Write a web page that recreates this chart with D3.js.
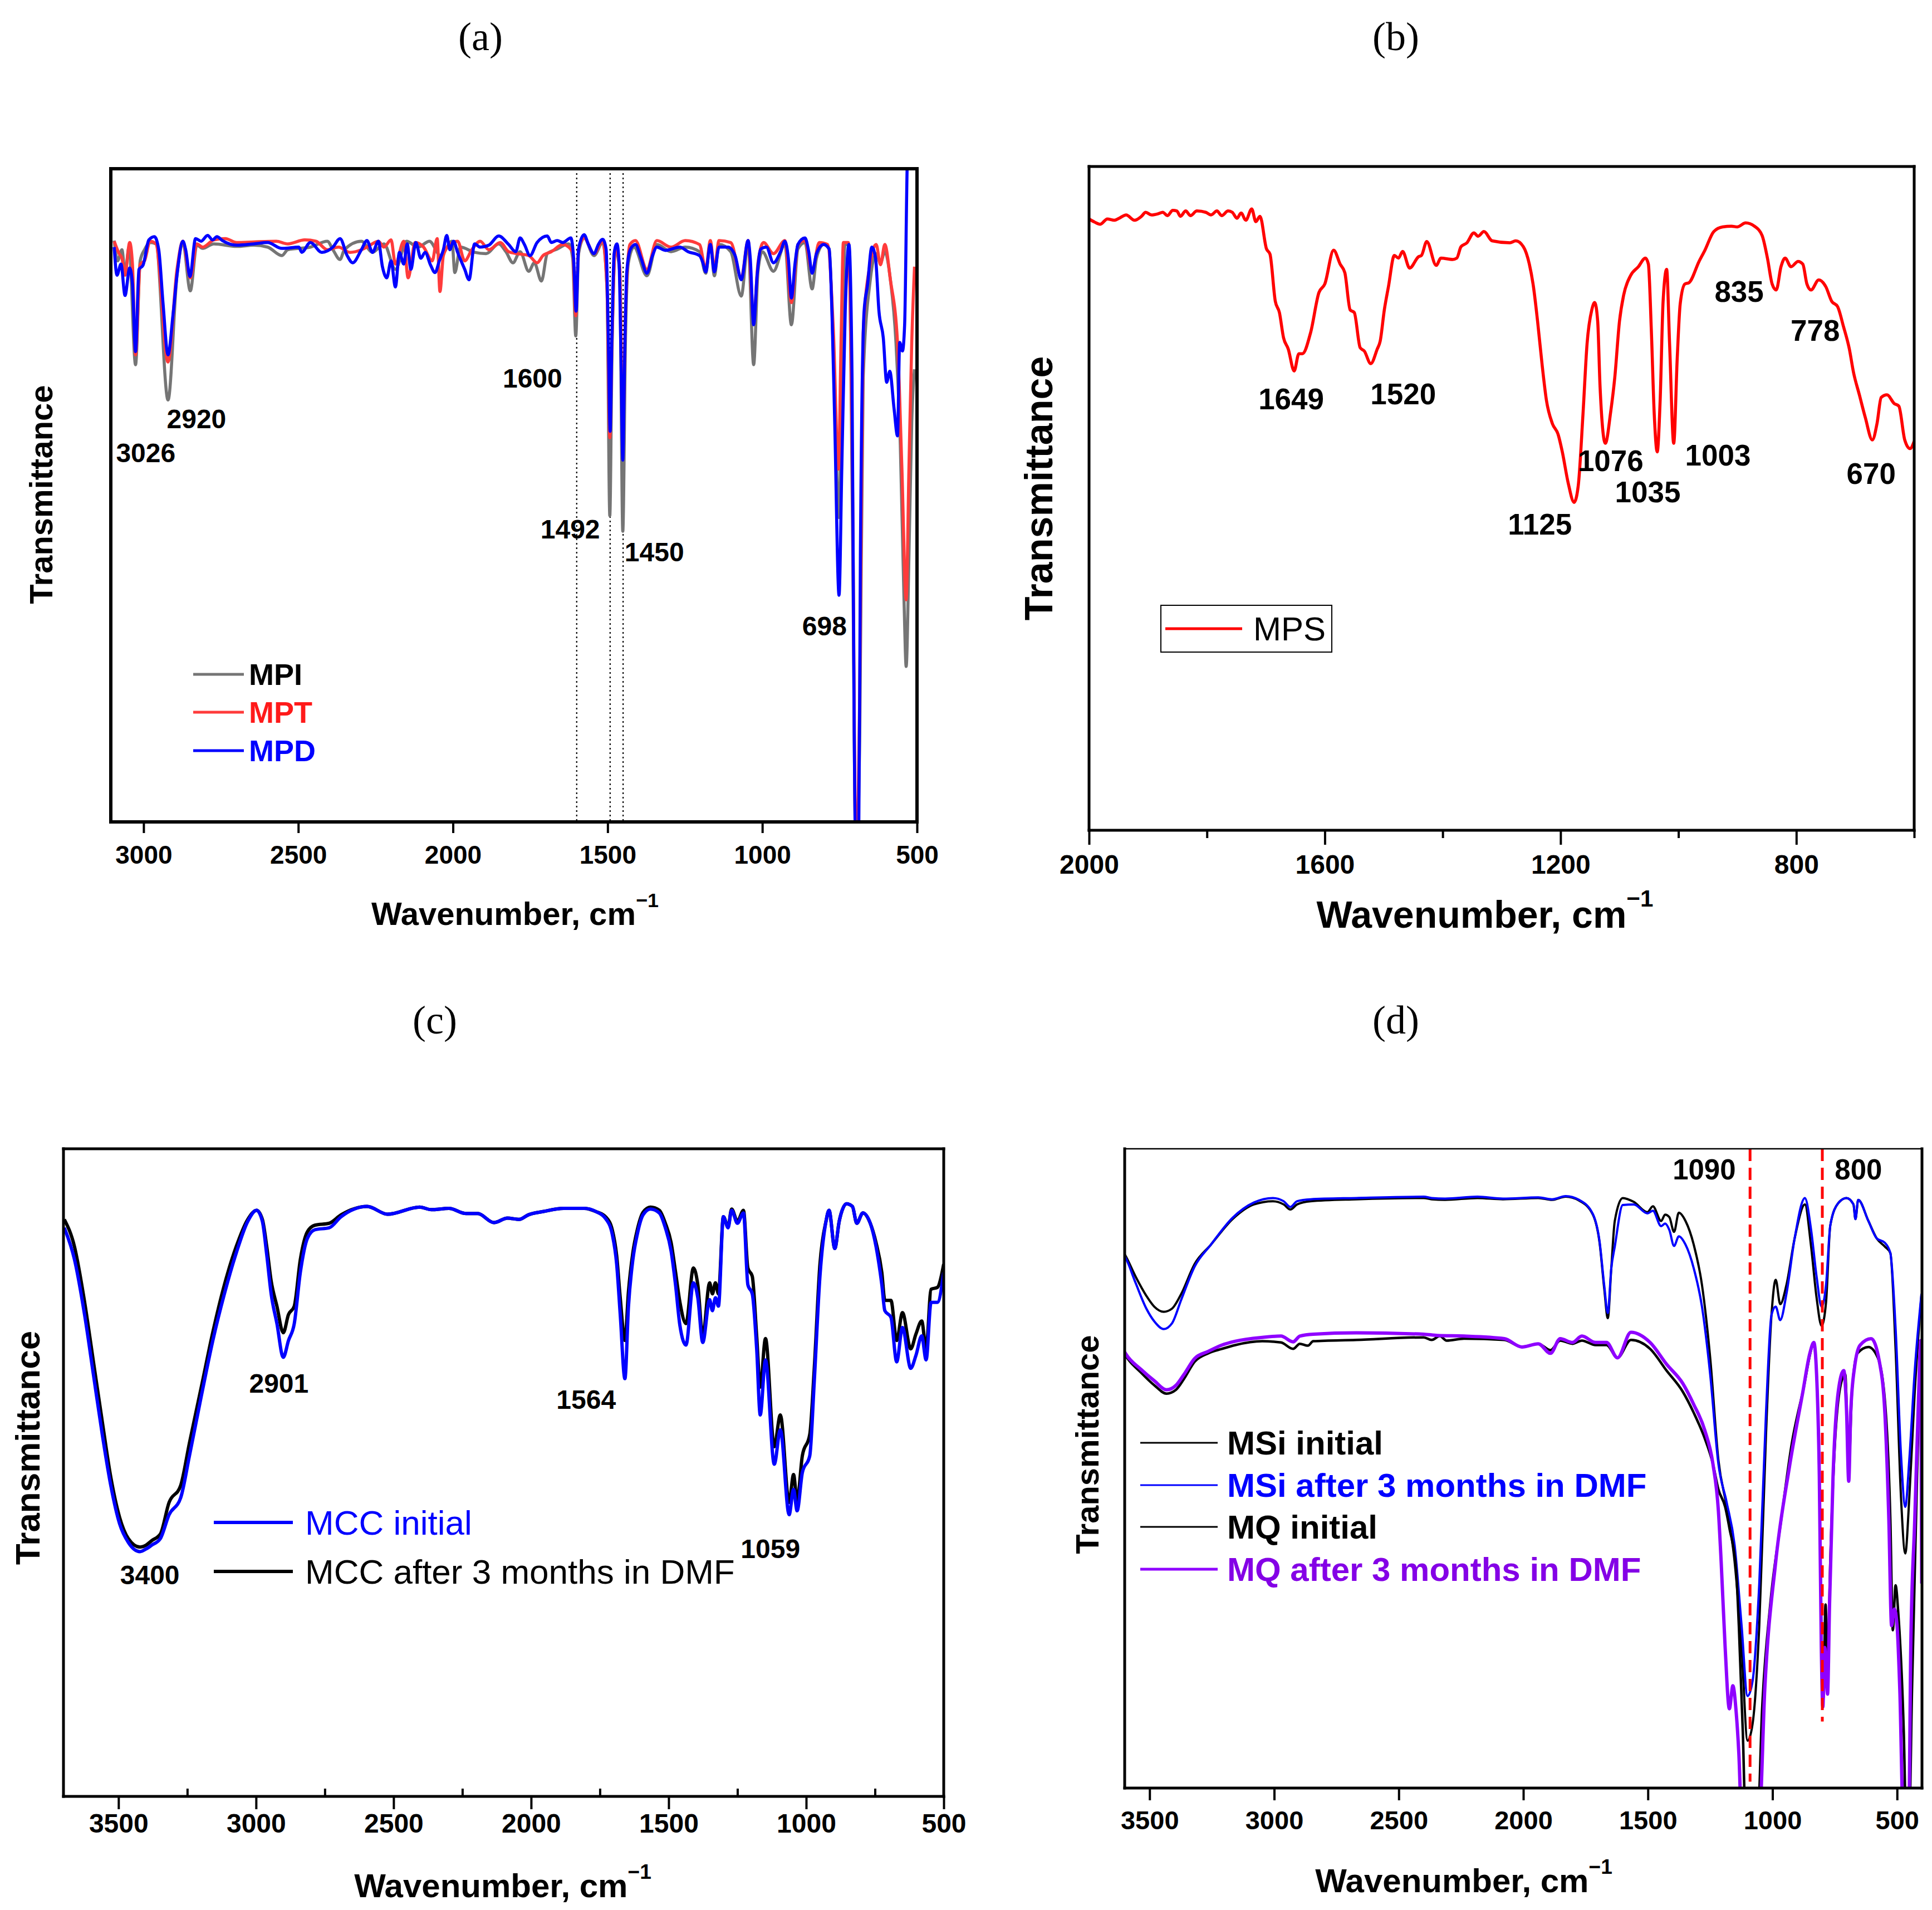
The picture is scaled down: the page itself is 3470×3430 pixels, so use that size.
<!DOCTYPE html>
<html>
<head>
<meta charset="utf-8">
<script src="https://cdn.jsdelivr.net/npm/d3@7"></script>
<style>
  body { margin: 0; background: #fff; }
</style>
</head>
<body>
<svg id="chart"></svg>
<script>
// ---------- data: [wavenumber cm-1, transmittance (arb., 0..100 of frame)] ----------

// (a) MPI / MPT / MPD
const mpiSpectrum = [[3095,89.0],[3084,85.9],[3070,87.6],[3060,84.1],[3047,88.0],[3026,70.0],[3011,85.9],[2997,87.6],[2979,88.7],[2960,88.5],[2921,64.6],[2892,83.7],[2873,88.7],[2849,81.3],[2828,88.3],[2809,87.8],[2773,88.5],[2699,88.1],[2644,88.3],[2599,88.0],[2553,86.7],[2534,87.6],[2461,88.0],[2406,88.9],[2388,87.6],[2365,86.1],[2351,87.6],[2296,88.9],[2260,87.2],[2223,88.5],[2186,84.6],[2150,88.9],[2113,88.0],[2076,88.9],[2040,86.7],[2003,88.9],[1994,84.1],[1976,88.0],[1930,87.2],[1893,87.0],[1852,88.5],[1829,87.3],[1806,85.6],[1783,87.3],[1755,84.3],[1737,85.6],[1714,82.8],[1695,87.0],[1663,87.7],[1626,88.5],[1613,86.3],[1603,74.4],[1594,87.0],[1576,89.4],[1544,86.7],[1516,88.7],[1502,81.6],[1493,46.9],[1486,71.4],[1475,87.7],[1461,84.3],[1451,44.5],[1442,74.8],[1433,85.6],[1415,88.0],[1373,83.6],[1341,88.4],[1295,87.3],[1249,88.0],[1203,87.3],[1183,84.0],[1168,88.7],[1155,83.6],[1140,88.4],[1102,87.3],[1068,80.5],[1046,88.7],[1028,70.0],[1014,84.3],[1000,87.3],[964,84.3],[927,88.4],[906,76.1],[885,87.7],[862,88.7],[839,81.6],[825,86.3],[802,88.4],[784,87.7],[770,71.4],[752,46.6],[743,68.0],[733,88.4],[720,88.4],[709,47.6],[697,-6.8],[685,13.6],[674,68.0],[651,83.0],[632,87.0],[618,85.6],[604,87.3],[586,83.0],[568,73.4],[554,57.8],[542,34.0],[535,23.8],[526,40.8],[517,61.2],[508,69.3]];

const mptSpectrum = [[3095,88.9],[3079,87.0],[3070,86.3],[3060,83.7],[3045,88.7],[3036,85.4],[3026,71.5],[3011,85.4],[2997,85.9],[2979,88.9],[2960,88.5],[2921,70.4],[2892,84.6],[2873,88.9],[2849,83.3],[2828,88.5],[2809,88.0],[2773,89.1],[2736,89.3],[2699,88.7],[2644,88.8],[2571,88.9],[2534,88.5],[2479,89.1],[2443,88.9],[2406,87.6],[2370,88.0],[2333,87.2],[2296,87.6],[2278,88.0],[2241,88.9],[2223,88.0],[2200,89.1],[2186,85.4],[2159,88.9],[2145,83.3],[2122,88.7],[2095,88.0],[2067,85.9],[2051,89.3],[2042,81.2],[2031,86.7],[2012,88.3],[1985,88.9],[1962,85.9],[1939,87.6],[1912,88.9],[1884,87.6],[1847,88.7],[1820,87.3],[1792,87.0],[1755,86.7],[1728,85.6],[1709,86.7],[1682,87.3],[1645,88.4],[1613,87.3],[1603,77.5],[1594,87.7],[1576,89.4],[1544,87.0],[1516,89.0],[1502,81.6],[1493,58.8],[1486,73.4],[1475,88.0],[1461,85.0],[1451,59.8],[1442,78.2],[1428,88.4],[1410,89.0],[1373,84.6],[1341,89.0],[1295,88.0],[1249,89.0],[1203,88.4],[1183,84.6],[1168,89.0],[1155,84.6],[1140,89.0],[1102,88.7],[1068,83.3],[1046,89.0],[1028,76.8],[1014,85.6],[996,88.7],[964,87.0],[927,89.0],[906,79.5],[885,88.4],[862,89.0],[839,84.3],[816,88.7],[789,88.4],[770,74.8],[754,54.0],[745,74.8],[738,88.7],[722,88.7],[709,54.4],[697,-6.8],[685,20.4],[674,74.8],[651,85.6],[632,88.4],[618,85.3],[604,88.4],[586,83.0],[563,73.4],[549,54.4],[535,34.0],[526,54.4],[517,73.4],[508,85.0]];

const mpdSpectrum = [[3095,88.0],[3086,83.7],[3073,85.4],[3060,80.6],[3045,84.8],[3036,82.4],[3026,72.0],[3015,84.6],[3002,85.2],[2983,89.1],[2965,89.6],[2951,87.6],[2937,79.3],[2921,71.5],[2905,77.6],[2892,83.7],[2873,88.9],[2864,87.6],[2850,83.5],[2832,89.3],[2814,88.9],[2793,89.8],[2777,89.1],[2763,89.6],[2745,89.0],[2699,88.3],[2644,88.5],[2599,88.7],[2553,87.8],[2498,88.0],[2489,87.2],[2461,88.7],[2424,87.2],[2388,88.0],[2365,89.3],[2342,86.7],[2324,85.6],[2296,87.6],[2278,89.0],[2260,87.2],[2241,88.9],[2228,85.0],[2214,83.3],[2200,85.9],[2186,81.9],[2173,87.2],[2159,85.4],[2148,88.5],[2136,84.6],[2120,88.7],[2104,86.3],[2090,87.2],[2072,85.2],[2058,84.1],[2044,85.9],[2031,87.6],[2020,89.8],[2010,87.6],[1998,88.9],[1985,87.2],[1962,84.6],[1948,83.0],[1930,88.5],[1912,88.0],[1884,88.3],[1852,89.7],[1820,88.4],[1797,87.3],[1783,89.4],[1769,88.4],[1751,86.7],[1728,88.7],[1695,89.7],[1682,88.7],[1663,89.0],[1645,88.7],[1619,89.4],[1610,86.3],[1602,78.2],[1594,87.7],[1576,89.9],[1562,88.4],[1544,87.0],[1530,88.4],[1516,89.2],[1505,87.7],[1498,74.8],[1492,59.8],[1486,74.8],[1479,87.0],[1470,88.5],[1463,85.6],[1457,71.4],[1451,55.4],[1445,71.4],[1438,84.3],[1426,87.7],[1410,88.4],[1392,86.3],[1373,84.0],[1355,86.7],[1341,88.0],[1313,87.5],[1267,88.0],[1240,87.3],[1203,86.7],[1192,85.6],[1183,84.2],[1168,88.4],[1155,84.2],[1140,88.0],[1111,88.0],[1088,86.7],[1068,83.0],[1046,89.0],[1039,86.3],[1028,76.1],[1017,83.6],[1005,87.7],[987,88.0],[964,85.6],[941,87.3],[927,88.9],[916,86.3],[906,80.2],[894,85.6],[885,88.4],[862,89.4],[850,87.3],[839,84.0],[825,87.0],[802,88.4],[784,87.7],[775,78.2],[766,61.2],[752,34.7],[743,54.4],[732,78.2],[720,88.4],[710,68.0],[703,13.6],[697,-6.8],[689,-6.8],[683,40.8],[671,78.2],[660,82.2],[646,88.0],[634,86.3],[623,78.2],[609,74.1],[598,67.3],[588,69.0],[574,63.2],[563,59.1],[556,73.4],[547,72.1],[540,76.1],[531,102],[522,108.7]];

// (b) MPS
const mpsSpectrum = [[2000,92.1],[1990,91.6],[1981,91.3],[1969,92.1],[1957,91.9],[1949,92.2],[1937,92.7],[1923,91.9],[1911,92.5],[1904,93.1],[1894,92.7],[1882,92.9],[1875,93.1],[1867,92.6],[1858,93.4],[1851,93.3],[1845,92.5],[1836,93.3],[1828,92.6],[1817,93.3],[1802,93.1],[1793,92.7],[1783,93.3],[1775,92.6],[1764,93.3],[1757,93.1],[1749,92.2],[1742,93.0],[1734,91.9],[1724,93.6],[1717,91.7],[1710,92.5],[1699,87.6],[1693,86.8],[1684,79.7],[1677,78.0],[1670,74.2],[1662,72.5],[1652,69.2],[1644,71.8],[1638,71.8],[1624,75.0],[1610,81.0],[1600,82.3],[1585,87.4],[1574,85.3],[1566,84.0],[1557,78.4],[1550,78.0],[1540,72.7],[1533,72.2],[1522,70.3],[1511,72.5],[1506,73.7],[1499,78.4],[1492,81.9],[1482,86.6],[1475,86.2],[1468,87.2],[1456,84.7],[1441,86.4],[1436,86.6],[1427,88.7],[1411,85.1],[1403,86.2],[1383,86.0],[1376,86.2],[1369,87.9],[1359,88.5],[1347,90.0],[1340,89.5],[1330,90.2],[1316,88.8],[1286,88.5],[1276,88.8],[1263,87.9],[1253,85.3],[1246,81.9],[1239,76.7],[1231,69.9],[1224,64.8],[1214,61.3],[1204,59.6],[1197,57.0],[1187,52.3],[1177,49.4],[1170,51.9],[1162,62.6],[1155,73.3],[1147,78.4],[1142,79.5],[1137,76.7],[1133,66.9],[1124,58.3],[1115,63.0],[1108,68.2],[1100,76.7],[1093,80.6],[1081,83.6],[1068,84.9],[1056,86.2],[1051,85.3],[1046,75.4],[1041,62.6],[1036,57.0],[1031,64.8],[1026,79.7],[1020,84.5],[1015,73.3],[1008,58.3],[1002,71.2],[997,79.3],[989,82.3],[982,82.5],[965,85.7],[955,87.4],[940,90.2],[925,90.9],[910,91.0],[900,90.9],[886,91.5],[871,91.0],[858,89.6],[849,86.2],[841,82.3],[834,81.4],[826,84.9],[819,86.2],[809,84.9],[797,85.7],[789,85.3],[782,82.3],[775,81.4],[762,82.9],[750,81.9],[740,79.7],[730,78.9],[720,75.9],[710,72.5],[703,69.0],[693,65.6],[683,62.2],[671,58.8],[663,61.3],[656,65.2],[646,65.6],[634,64.3],[626,63.9],[616,58.8],[607,57.5],[600,58.6]];

// (c) MCC
const mccInitial = [[3697,87.8],[3660,82.9],[3623,74.3],[3591,65.1],[3559,55.9],[3528,48.0],[3496,42.1],[3464,39.2],[3422,37.8],[3400,38.2],[3379,38.8],[3348,39.8],[3316,43.5],[3274,46.1],[3242,52.6],[3199,61.8],[3157,70.4],[3115,77.6],[3072,83.9],[3030,88.8],[2998,90.5],[2977,88.8],[2961,83.6],[2945,77.6],[2924,73.0],[2901,67.8],[2882,70.4],[2861,73.0],[2839,80.9],[2813,86.2],[2786,87.5],[2734,87.8],[2691,89.5],[2596,91.1],[2522,89.9],[2405,91.0],[2363,90.6],[2299,90.8],[2236,90.0],[2194,90.0],[2135,88.6],[2086,89.3],[2043,89.1],[2010,89.8],[1957,90.3],[1882,90.8],[1807,90.8],[1764,90.3],[1727,89.1],[1705,86.8],[1689,82.2],[1676,74.4],[1659,64.5],[1646,75.7],[1630,82.9],[1614,86.8],[1593,89.8],[1566,90.7],[1534,90.1],[1512,87.8],[1491,84.2],[1475,79.0],[1459,72.7],[1437,69.7],[1410,79.3],[1394,77.0],[1376,70.1],[1351,76.7],[1341,75.0],[1330,77.0],[1319,75.7],[1301,89.5],[1284,87.8],[1271,90.5],[1250,88.5],[1228,90.1],[1212,79.0],[1196,77.6],[1180,69.1],[1167,58.9],[1148,67.4],[1116,51.3],[1094,56.6],[1062,43.5],[1046,47.4],[1033,44.1],[1014,50.0],[987,52.6],[971,63.8],[950,80.3],[928,88.8],[917,90.5],[896,84.6],[880,88.8],[853,91.5],[832,91.1],[816,88.5],[794,90.1],[767,88.5],[746,84.9],[725,79.0],[714,75.0],[692,74.0],[671,67.1],[650,72.4],[620,66.1],[601,68.1],[580,71.1],[564,67.4],[546,76.3],[523,76.3],[500,80.9]];

const mccAfter = [[3697,89.1],[3660,84.9],[3623,76.3],[3591,67.1],[3559,57.9],[3528,49.3],[3496,43.1],[3464,39.8],[3422,38.5],[3400,38.8],[3379,39.5],[3348,40.5],[3316,45.4],[3274,48.0],[3242,54.6],[3199,63.2],[3157,71.7],[3115,79.0],[3072,84.9],[3030,89.1],[2998,90.5],[2977,89.1],[2961,84.9],[2945,79.6],[2924,75.7],[2901,71.6],[2882,74.4],[2861,75.7],[2839,82.9],[2813,87.2],[2786,88.2],[2734,88.5],[2691,89.8],[2596,91.1],[2522,89.9],[2405,91.0],[2363,90.6],[2299,90.8],[2236,90.0],[2194,90.0],[2135,88.6],[2086,89.3],[2043,89.1],[2010,89.8],[1957,90.3],[1882,90.8],[1807,90.8],[1764,90.3],[1727,89.4],[1705,87.5],[1689,83.5],[1676,77.0],[1659,70.4],[1646,78.0],[1630,84.0],[1614,87.5],[1593,90.2],[1566,91.0],[1534,90.5],[1512,88.5],[1491,85.5],[1475,81.0],[1459,76.3],[1437,73.0],[1410,81.6],[1394,79.0],[1376,71.1],[1351,79.3],[1341,77.6],[1330,79.3],[1319,77.6],[1301,89.5],[1284,88.0],[1271,90.7],[1250,88.8],[1228,90.5],[1212,81.6],[1196,80.3],[1180,71.1],[1167,63.2],[1148,70.7],[1116,54.0],[1094,58.9],[1062,45.4],[1046,49.7],[1033,45.7],[1014,52.6],[987,55.9],[971,65.8],[950,82.2],[928,88.8],[917,90.5],[896,84.6],[880,88.8],[853,91.5],[832,91.1],[816,88.5],[794,90.1],[767,88.5],[746,85.5],[725,80.9],[714,76.6],[692,76.6],[671,70.4],[650,74.7],[620,69.1],[601,71.4],[580,73.4],[564,69.1],[546,78.3],[523,78.6],[500,82.2]];

// (d) MSi / MQ
const msiInitial = [[3600,83.5],[3597,83.3],[3556,80.0],[3513,77.0],[3481,75.3],[3443,74.5],[3410,75.0],[3373,77.3],[3319,82.0],[3254,85.0],[3167,89.0],[3081,91.3],[3005,91.8],[2962,91.3],[2935,90.5],[2908,91.3],[2854,91.8],[2670,92.1],[2400,92.3],[2368,92.1],[2314,92.0],[2184,92.3],[2082,92.1],[1940,92.3],[1885,92.0],[1830,92.5],[1776,91.9],[1721,89.7],[1694,85.3],[1675,78.0],[1661,73.5],[1647,81.3],[1633,88.7],[1601,92.3],[1557,91.7],[1502,90.1],[1480,91.0],[1447,88.7],[1431,89.7],[1414,89.3],[1395,87.0],[1376,90.0],[1349,88.7],[1316,85.0],[1283,78.7],[1250,67.3],[1217,51.3],[1184,44.0],[1152,35.4],[1124,22.0],[1100,7.4],[1080,10.0],[1053,25.4],[1026,55.3],[1004,74.0],[987,79.5],[969,75.7],[944,78.7],[911,86.0],[870,91.3],[845,84.7],[823,76.7],[803,72.3],[785,76.0],[768,88.0],[736,91.5],[703,92.3],[675,91.3],[667,89.0],[656,92.0],[615,88.7],[582,86.0],[549,84.7],[527,83.7],[506,68.7],[484,45.3],[467,36.7],[451,45.3],[429,62.0],[402,77.3]];

const msiAfter = [[3600,83.2],[3597,83.0],[3556,79.0],[3513,75.0],[3481,73.0],[3443,71.8],[3410,72.7],[3373,76.4],[3319,81.6],[3254,85.0],[3167,89.2],[3081,91.6],[3005,92.3],[2962,91.8],[2935,90.9],[2908,91.8],[2854,92.1],[2670,92.3],[2400,92.5],[2368,92.3],[2314,92.2],[2184,92.5],[2082,92.2],[1940,92.4],[1885,92.1],[1830,92.6],[1776,92.0],[1721,89.8],[1694,85.5],[1675,78.5],[1661,74.3],[1647,81.3],[1633,84.7],[1601,91.2],[1557,91.3],[1502,89.9],[1480,90.3],[1447,87.9],[1431,88.3],[1414,87.3],[1395,84.8],[1376,86.3],[1349,85.0],[1316,81.3],[1283,75.3],[1250,64.7],[1217,50.7],[1184,44.7],[1152,38.0],[1124,25.4],[1100,14.4],[1080,16.7],[1053,32.0],[1026,58.7],[1004,74.0],[987,75.3],[969,73.2],[944,77.3],[911,86.0],[870,92.3],[845,87.3],[823,80.0],[803,75.3],[785,78.7],[768,88.0],[736,91.5],[703,92.3],[675,91.3],[667,89.0],[656,92.0],[615,88.7],[582,86.0],[549,85.3],[527,83.7],[506,72.0],[484,52.0],[467,44.0],[451,51.3],[429,65.3],[402,77.3]];

const mqInitial = [[3600,67.9],[3597,67.7],[3535,65.0],[3481,63.0],[3432,61.7],[3394,62.3],[3362,64.0],[3319,66.7],[3265,68.0],[3210,68.7],[3156,69.3],[3048,69.9],[2973,69.7],[2924,68.7],[2897,69.5],[2865,69.2],[2843,69.9],[2670,70.1],[2400,70.5],[2368,70.1],[2335,70.7],[2308,70.0],[2238,70.3],[2076,70.1],[2006,69.0],[1940,69.5],[1891,68.5],[1852,70.0],[1803,69.5],[1765,70.0],[1710,69.3],[1666,69.3],[1622,67.3],[1568,70.1],[1491,68.7],[1425,65.3],[1360,62.0],[1316,58.7],[1272,54.7],[1239,50.7],[1217,46.7],[1190,44.0],[1173,40.7],[1146,34.0],[1135,25.4],[1119,8.7],[1108,-4.6],[1059,-4.6],[1042,12.0],[1009,28.7],[965,42.0],[922,54.0],[878,62.0],[834,69.3],[823,64.7],[812,48.7],[803,22.0],[796,14.0],[787,28.7],[779,18.7],[768,35.4],[752,52.0],[725,63.3],[708,64.7],[694,50.0],[681,62.0],[659,68.0],[615,69.0],[577,67.3],[549,60.7],[527,42.0],[517,24.7],[506,31.7],[495,27.3],[473,8.7],[464,-4.6],[451,-4.6],[440,15.4],[424,42.0],[409,64.7],[402,70.0]];

const mqAfter = [[3600,68.2],[3597,68.0],[3535,65.5],[3481,63.7],[3432,62.3],[3394,63.0],[3362,64.7],[3319,67.2],[3265,68.3],[3210,69.3],[3156,69.9],[3048,70.5],[2973,70.7],[2924,69.8],[2897,70.7],[2843,71.0],[2670,71.2],[2400,71.0],[2346,70.8],[2238,70.7],[2076,70.3],[2006,69.0],[1940,69.5],[1891,68.0],[1852,70.3],[1803,69.7],[1765,70.7],[1710,69.7],[1666,69.7],[1622,67.3],[1568,71.3],[1491,69.7],[1425,66.3],[1360,63.3],[1316,60.0],[1272,56.0],[1239,50.7],[1217,43.3],[1206,35.4],[1190,22.0],[1173,12.4],[1159,16.0],[1146,12.0],[1135,5.4],[1124,-4.6],[1053,-4.6],[1031,15.4],[987,35.4],[933,50.0],[878,62.0],[850,68.0],[834,69.7],[823,64.7],[812,48.7],[804,22.0],[798,12.7],[790,22.0],[779,14.7],[771,28.7],[757,48.7],[736,62.0],[714,65.3],[703,59.3],[694,48.0],[686,58.7],[670,66.0],[648,69.3],[604,70.3],[571,66.7],[549,58.7],[533,42.0],[522,25.4],[511,28.0],[500,25.4],[489,15.4],[475,-4.6],[453,-4.6],[445,22.0],[429,42.0],[413,62.0],[405,70.0],[401,32.0]];

// ticks
const ticksA = [3000, 2500, 2000, 1500, 1000, 500];
const ticksB = [2000, 1600, 1200, 800];
const minorB = [1800, 1400, 1000, 600];
const ticksC = [3500, 3000, 2500, 2000, 1500, 1000, 500];
const minorC = [3250, 2750, 2250, 1750, 1250, 750];
const ticksD = [3500, 3000, 2500, 2000, 1500, 1000, 500];

// peak annotations [text, wavenumber, transmittance]
const peaksA = [["3026",2993,56.5],["2920",2829,61.7],["1600",1743,67.9],["1492",1621,44.8],["1450",1349,41.3],["698",799,30.0]];
const peaksB = [["1649",1657,65.0],["1520",1467,65.7],["1125",1235,46.1],["1076",1115,55.7],["1035",1052,51.0],["1003",933,56.5],["835",897,81.2],["778",768,75.3],["670",673,53.7]];
const peaksC = [["3400",3386,34.2],["2901",2917,63.8],["1564",1800,61.3],["1059",1130,38.2]];
const peaksD = [["1090",1274,96.7],["800",655,96.7]];

// guide lines [wavenumber, lower T]
const guidesA = [[1600, 0], [1492, 0], [1450, 0]];
const guidesD = [[1090, 1], [800, 10.4]];

// ---------- drawing ----------
const W = 3470, H = 3430;
const FONT = '"Liberation Sans", Arial, Helvetica, sans-serif';
const SERIF = '"Liberation Serif", "Times New Roman", serif';

const svg = d3.select('#chart').attr('width', W).attr('height', H);
svg.append('rect').attr('width', W).attr('height', H).attr('fill', '#fff');

function drawPanel(p) {
  const g = svg.append('g');
  const x = d3.scaleLinear().domain(p.xDomain).range([p.left, p.right]);
  const y = d3.scaleLinear().domain([0, 100]).range([p.bottom, p.top]);

  svg.append('clipPath').attr('id', 'clip-' + p.id)
    .append('rect')
    .attr('x', p.left).attr('y', p.top)
    .attr('width', p.right - p.left).attr('height', p.bottom - p.top);

  const line = d3.line().x(d => x(d[0])).y(d => y(d[1])).curve(d3.curveMonotoneX);
  const plot = g.append('g').attr('clip-path', `url(#clip-${p.id})`);

  const drawGuides = () => {
    (p.guides || []).forEach(([wn, lo]) => {
      plot.append('line')
        .attr('x1', x(wn)).attr('x2', x(wn))
        .attr('y1', p.top).attr('y2', y(lo))
        .attr('stroke', p.guideColor)
        .attr('stroke-width', p.guideWidth)
        .attr('stroke-dasharray', p.guideDash);
    });
  };

  if (!p.guidesOnTop) drawGuides();
  p.series.forEach(s => {
    plot.append('path').datum(s.data)
      .attr('d', line)
      .attr('fill', 'none')
      .attr('stroke', s.color)
      .attr('stroke-width', s.width)
      .attr('stroke-linejoin', 'round');
  });
  if (p.guidesOnTop) drawGuides();

  // axis
  const axis = d3.axisBottom(x).tickValues(p.ticks).tickSize(p.tickLen)
    .tickPadding(p.tickPad).tickFormat(d3.format('d'));
  const ag = g.append('g').attr('transform', `translate(0,${p.bottom})`).call(axis);
  ag.select('.domain').remove();
  ag.selectAll('.tick line').attr('stroke', '#000').attr('stroke-width', 4);
  ag.selectAll('.tick text')
    .attr('fill', '#000').attr('font-family', FONT)
    .attr('font-weight', 'bold').attr('font-size', p.tickFont);

  if (p.minor) {
    const mAxis = d3.axisBottom(x).tickValues(p.minor).tickSize(p.minorLen).tickFormat(() => '');
    const mg = g.append('g').attr('transform', `translate(0,${p.bottom})`).call(mAxis);
    mg.select('.domain').remove();
    mg.selectAll('.tick line').attr('stroke', '#000').attr('stroke-width', 4);
  }

  // frame
  const fw = p.frameWidth;
  g.append('line').attr('x1', p.left).attr('x2', p.right).attr('y1', p.top).attr('y2', p.top)
    .attr('stroke', '#000').attr('stroke-width', p.topWidth || fw).attr('stroke-linecap', 'square');
  g.append('line').attr('x1', p.left).attr('x2', p.right).attr('y1', p.bottom).attr('y2', p.bottom)
    .attr('stroke', '#000').attr('stroke-width', fw).attr('stroke-linecap', 'square');
  g.append('line').attr('x1', p.left).attr('x2', p.left).attr('y1', p.top).attr('y2', p.bottom)
    .attr('stroke', '#000').attr('stroke-width', fw).attr('stroke-linecap', 'square');
  g.append('line').attr('x1', p.right).attr('x2', p.right).attr('y1', p.top).attr('y2', p.bottom)
    .attr('stroke', '#000').attr('stroke-width', fw).attr('stroke-linecap', 'square');

  // peak labels
  p.peaks.forEach(([t, wn, tr]) => {
    g.append('text')
      .attr('x', x(wn)).attr('y', y(tr))
      .attr('text-anchor', 'middle').attr('dominant-baseline', 'central')
      .attr('font-family', FONT).attr('font-weight', 'bold')
      .attr('font-size', p.peakFont).attr('fill', '#000')
      .text(t);
  });

  // x title
  const xt = g.append('text')
    .attr('x', p.xTitle[0]).attr('y', p.xTitle[1])
    .attr('text-anchor', 'middle').attr('dominant-baseline', 'central')
    .attr('font-family', FONT).attr('font-weight', 'bold')
    .attr('font-size', p.xTitleFont).attr('fill', '#000');
  xt.append('tspan').text('Wavenumber, cm');
  xt.append('tspan').attr('font-size', p.xTitleFont * 0.62).attr('dy', -p.xTitleFont * 0.42).text('\u22121');

  // y title
  g.append('text')
    .attr('transform', `translate(${p.yTitle[0]},${p.yTitle[1]}) rotate(-90)`)
    .attr('text-anchor', 'middle').attr('dominant-baseline', 'central')
    .attr('font-family', FONT).attr('font-weight', 'bold')
    .attr('font-size', p.yTitleFont).attr('fill', '#000')
    .text('Transmittance');

  // panel letter
  svg.append('text')
    .attr('x', p.letter[0]).attr('y', p.letter[1])
    .attr('text-anchor', 'middle').attr('dominant-baseline', 'central')
    .attr('font-family', SERIF).attr('font-size', 72).attr('fill', '#000')
    .text(p.letterText);

  return g;
}

function drawLegend(g, entries, o) {
  entries.forEach((e, i) => {
    const yy = o.rows[i];
    g.append('line')
      .attr('x1', o.x1).attr('x2', o.x2).attr('y1', yy).attr('y2', yy)
      .attr('stroke', e.color).attr('stroke-width', e.legendWidth || o.lineWidth);
    g.append('text')
      .attr('x', o.textX).attr('y', yy)
      .attr('dominant-baseline', 'central')
      .attr('font-family', FONT).attr('font-weight', o.weight)
      .attr('font-size', o.font).attr('fill', e.textColor || e.color)
      .text(e.name);
  });
}

// ----- panel (a)
const seriesA = [
  { name: 'MPI', data: mpiSpectrum, color: '#757575', textColor: '#000', width: 5.5 },
  { name: 'MPT', data: mptSpectrum, color: '#ff3b3b', textColor: '#ff1a1a', width: 5.5 },
  { name: 'MPD', data: mpdSpectrum, color: '#0000ff', width: 5.5 }
];
const gA = drawPanel({
  id: 'a', xDomain: [3106, 500], left: 199, right: 1647, top: 303, bottom: 1476,
  series: seriesA, ticks: ticksA, tickLen: 20, tickPad: 22, tickFont: 46,
  guides: guidesA, guideColor: '#000', guideWidth: 2.2, guideDash: '3,5',
  frameWidth: 6, peaks: peaksA, peakFont: 48,
  xTitle: [925, 1640], xTitleFont: 58, yTitle: [73, 888], yTitleFont: 58,
  letter: [863, 66], letterText: '(a)'
});
drawLegend(gA, seriesA, { x1: 347, x2: 438, rows: [1211, 1279, 1348], textX: 447, font: 54, weight: 'bold', lineWidth: 5 });

// ----- panel (b)
const seriesB = [{ name: 'MPS', data: mpsSpectrum, color: '#ff0000', textColor: '#000', width: 5.5 }];
const gB = drawPanel({
  id: 'b', xDomain: [2000, 600], left: 1956, right: 3438, top: 299, bottom: 1491,
  series: seriesB, ticks: ticksB, tickLen: 26, tickPad: 18, tickFont: 48,
  minor: minorB, minorLen: 14,
  frameWidth: 5, peaks: peaksB, peakFont: 53,
  xTitle: [2667, 1642], xTitleFont: 68, yTitle: [1866, 877], yTitleFont: 70,
  letter: [2507, 66], letterText: '(b)'
});
gB.append('rect').attr('x', 2085).attr('y', 1087).attr('width', 307).attr('height', 84)
  .attr('fill', '#fff').attr('stroke', '#000').attr('stroke-width', 2);
drawLegend(gB, seriesB, { x1: 2093, x2: 2231, rows: [1129], textX: 2251, font: 60, weight: 'normal', lineWidth: 5 });

// ----- panel (c)
const seriesC = [
  { name: 'MCC after 3 months in DMF', data: mccAfter, color: '#000', width: 6 },
  { name: 'MCC initial', data: mccInitial, color: '#0000ff', width: 6 }
];
const gC = drawPanel({
  id: 'c', xDomain: [3700, 500], left: 114, right: 1695, top: 2063, bottom: 3226,
  series: seriesC, ticks: ticksC, tickLen: 23, tickPad: 8, tickFont: 48,
  minor: minorC, minorLen: -14,
  frameWidth: 5, peaks: peaksC, peakFont: 48,
  xTitle: [903, 3386], xTitleFont: 60, yTitle: [49, 2600], yTitleFont: 62,
  letter: [781, 1832], letterText: '(c)'
});
drawLegend(gC, [seriesC[1], seriesC[0]], { x1: 384, x2: 526, rows: [2734, 2822], textX: 548, font: 62, weight: 'normal', lineWidth: 6 });

// ----- panel (d)
const seriesD = [
  { name: 'MSi initial', data: msiInitial, color: '#000', width: 4 },
  { name: 'MSi after 3 months in DMF', data: msiAfter, color: '#0000ff', width: 4 },
  { name: 'MQ initial', data: mqInitial, color: '#000', width: 4.5 },
  { name: 'MQ after 3 months in DMF', data: mqAfter, color: '#8f00ff', textColor: '#8400e6', width: 6, legendWidth: 5 }
];
const gD = drawPanel({
  id: 'd', xDomain: [3600, 400], left: 2020, right: 3452, top: 2063, bottom: 3211,
  series: seriesD, ticks: ticksD, tickLen: 22, tickPad: 19, tickFont: 47,
  guides: guidesD, guidesOnTop: true, guideColor: '#ff0000', guideWidth: 5, guideDash: '22,12',
  frameWidth: 5, topWidth: 2.5, peaks: peaksD, peakFont: 51,
  xTitle: [2629, 3377], xTitleFont: 60, yTitle: [1952, 2594], yTitleFont: 58,
  letter: [2507, 1832], letterText: '(d)'
});
drawLegend(gD, seriesD, { x1: 2048, x2: 2187, rows: [2591, 2667, 2742, 2818], textX: 2204, font: 60, weight: 'bold', lineWidth: 3 });
</script>
</body>
</html>
